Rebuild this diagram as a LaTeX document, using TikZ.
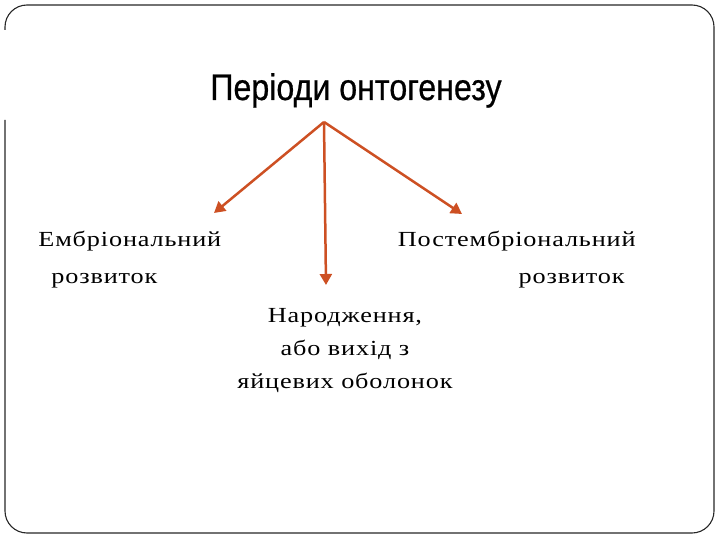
\documentclass[tikz,border=0pt]{standalone}
\usepackage{fontspec}
\setmainfont{Liberation Serif}
\newfontfamily\titelschrift[FakeStretch=0.87,FakeBold=0.6]{Liberation Sans}
\newfontfamily\koerperschrift[FakeStretch=1.22,LetterSpace=4]{Liberation Serif}
\usepackage{tikz}
\usetikzlibrary{positioning}
\usetikzlibrary{arrows.meta}
\definecolor{pfeilrot}{RGB}{205,80,35}

\begin{document}
\begin{tikzpicture} [x=1pt, y=-1pt, thick,
        main/.style = {inner sep=0pt, font=\koerperschrift\fontsize{21.5}{36}\selectfont},
        pfeil/.style = {draw=pfeilrot, line width=2.5pt, -{Triangle[length=11pt,width=12pt]}}]
        \useasboundingbox (0,0) rectangle (720,540);

        %Rahmen
        \draw[black!85, line width=1.1pt, rounded corners=22pt]
            (5,120) -- (5,533) -- (714,533) -- (714,5) -- (5,5) -- (5,30);

        %Knoten
        \node[inner sep=0pt, font=\titelschrift\fontsize{37}{40}\selectfont, anchor=base] (titel) at (356,100) {Періоди онтогенезу};
        \coordinate (wurzel) at (324,122);

        % base = Grundlinie der letzten Zeile
        \node[main, align=left, anchor=base west] (embrio) at (38,283) {Ембріональний\\\hspace*{13pt}розвиток};
        \node[main, align=right, anchor=base east] (postembrio) at (636,283) {Постембріональний\\розвиток\hspace*{11pt}};
        \node[main, align=center, anchor=base, font=\koerperschrift\fontsize{21.5}{33}\selectfont] (geburt) at (345,388) {Народження,\\або вихід з\\яйцевих оболонок};

        \coordinate (e1) at (214,213);
        \coordinate (e2) at (326,285);
        \coordinate (e3) at (462,214);

        %Kanten
        \draw[pfeil] (wurzel) -- (e1);
        \draw[pfeil] (wurzel) -- (e2);
        \draw[pfeil] (wurzel) -- (e3);

    \end{tikzpicture}
\end{document}
